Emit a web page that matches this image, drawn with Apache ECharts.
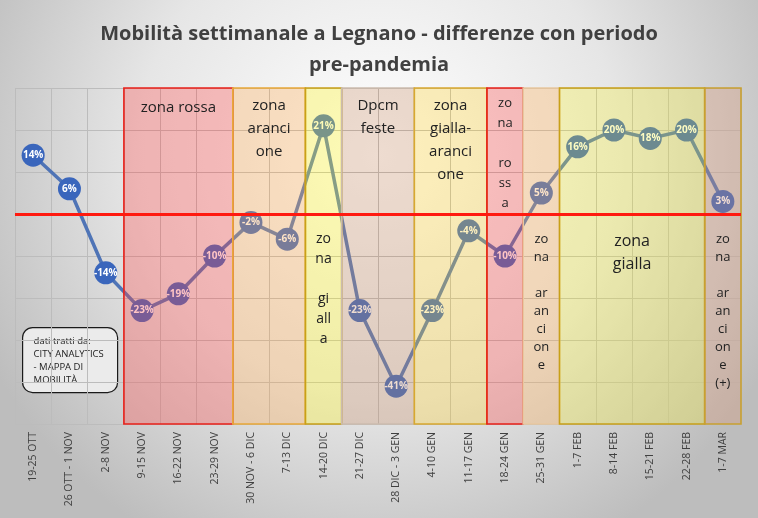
<!DOCTYPE html>
<html><head><meta charset="utf-8">
<script src="https://cdn.jsdelivr.net/npm/echarts@6/dist/echarts.min.js"></script>
<style>html,body{margin:0;padding:0;}#c{width:758px;height:518px;}</style>
</head><body><div id="c"></div>
<script>
const categories = ['19-25 OTT','26 OTT - 1 NOV','2-8 NOV','9-15 NOV','16-22 NOV','23-29 NOV','30 NOV - 6 DIC','7-13 DIC','14-20 DIC','21-27 DIC','28 DIC - 3 GEN','4-10 GEN','11-17 GEN','18-24 GEN','25-31 GEN','1-7 FEB','8-14 FEB','15-21 FEB','22-28 FEB','1-7 MAR'];
const values = [14, 6, -14, -23, -19, -10, -2, -6, 21, -23, -41, -23, -4, -10, 5, 16, 20, 18, 20, 3];

// zones: first and last category index covered, label, kind
const zoneFirst = [3, 6, 8, 9, 11, 13, 14, 15, 19];
const zoneLast  = [5, 7, 8, 10, 12, 13, 14, 18, 19];
const zoneText = [
  'zona rossa',
  'zona\naranci\none',
  'zo\nna\n\ngi\nall\na',
  'Dpcm\nfeste',
  'zona\ngialla-\naranci\none',
  'zo\nna\n\nro\nss\na',
  'zo\nna\n\nar\nan\nci\non\ne',
  'zona\ngialla',
  'zo\nna\n\nar\nan\nci\non\ne\n(+)'
];
const zoneKind = ['rossa','arancione','gialla','feste','giallaArancione','rossa','arancione2','giallaV','arancioneP'];

const sourceText = 'dati tratti da:\nCITY ANALYTICS\n- MAPPA DI\nMOBILITÀ';
const titleLine1 = 'Mobilità settimanale a Legnano - differenze con periodo';
const titleLine2 = 'pre-pandemia';

// styles (not data)
const kindStyle = {
  rossa:           {color:'rgba(255,70,70,0.32)',  border:'#e8201a'},
  arancione:       {color:'rgba(255,170,80,0.32)', border:'#e8a838'},
  gialla:          {color:'rgba(255,245,30,0.32)', border:'#c8a018'},
  feste:           {color:'rgba(200,140,100,0.30)',border:'#cbbcae'},
  giallaArancione: {color:'rgba(255,210,40,0.30)', border:'#d8a830'},
  arancione2:      {color:'rgba(255,175,85,0.32)', border:'#e8c8a0'},
  giallaV:         {color:'rgba(250,245,20,0.26)', border:'#c8a018'},
  arancioneP:      {color:'rgba(220,145,110,0.30)',border:'#c8a030'}
};
const labelLayout = [
  {d:9,  fs:15, lh:23},
  {d:7,  fs:15, lh:23},
  {d:142,fs:14, lh:20},
  {d:7,  fs:15, lh:23},
  {d:7,  fs:15, lh:23},
  {d:6,  fs:13, lh:20},
  {d:143,fs:13, lh:18},
  {d:143,fs:16, lh:23},
  {d:143,fs:13, lh:18}
];
const FONT = 'Open Sans';

const areaData = zoneFirst.map((f, i) => {
  const st = kindStyle[zoneKind[i]];
  const L = labelLayout[i];
  return [{
    name: zoneText[i],
    xAxis: f,
    itemStyle: {color: st.color, borderColor: st.border, borderWidth: 1.6},
    label: {show: true, position: 'insideTop', distance: L.d, color: '#222', fontSize: L.fs,
            lineHeight: L.lh, fontFamily: FONT, align: 'center'}
  }, {xAxis: zoneLast[i] + 1}];
});

const chart = echarts.init(document.getElementById('c'));
chart.setOption({
  animation: false,
  backgroundColor: {type:'radial', x:0.5, y:0.3, r:0.85,
    colorStops:[{offset:0,color:'#ffffff'},{offset:0.55,color:'#e6e6e6'},{offset:1,color:'#bdbdbd'}]},
  title: [{text: titleLine1, left: 'center', top: 14,
    textStyle: {fontSize: 20, fontWeight: 'bold', color: '#404040', lineHeight: 30, fontFamily: FONT}},
    {text: titleLine2, left: 'center', top: 45,
    textStyle: {fontSize: 20, fontWeight: 'bold', color: '#404040', lineHeight: 30, fontFamily: FONT}}],
  grid: {left: 15, right: 17, top: 88, bottom: 94},
  xAxis: [{
    type: 'category', data: categories, boundaryGap: true,
    axisLine: {show: true, lineStyle: {color: '#bcbcbc'}},
    axisTick: {show: false},
    axisLabel: {rotate: 90, interval: 0, fontSize: 10.5, color: '#404040', margin: 8, fontFamily: FONT},
    splitLine: {show: true, interval: 0, lineStyle: {color: '#bcbcbc', width: 1}}
  }, {
    type: 'value', min: 0, max: 20, show: false
  }],
  yAxis: {
    type: 'value', min: -50, max: 30, interval: 10,
    axisLabel: {show: false}, axisLine: {show: false}, axisTick: {show: false},
    splitLine: {lineStyle: {color: '#bcbcbc', width: 1}}
  },
  series: [{
    type: 'line', data: values, z: 2,
    lineStyle: {color: '#4f74b6', width: 3.5},
    symbol: 'circle', symbolSize: 23,
    itemStyle: {color: '#3a66bc'},
    label: {show: true, position: 'inside', formatter: '{c}%', color: '#fff',
            fontWeight: 'bold', fontSize: 10, fontFamily: FONT}
  }, {
    type: 'line', xAxisIndex: 1, data: [], z: 10, silent: true,
    markArea: {silent: true, z: 10, data: areaData}
  }, {
    type: 'line', xAxisIndex: 1, data: [], z: 20, silent: true,
    markLine: {silent: true, z: 20, symbol: 'none', label: {show: false},
      lineStyle: {color: '#ff1a10', width: 3, type: 'solid'},
      data: [{yAxis: 0}]}
  }],
  graphic: [{
    type: 'group', left: 22, top: 327,
    children: [{
      type: 'rect', shape: {x: 0, y: 0, width: 95, height: 65, r: 10},
      style: {fill: '#ebebeb', stroke: '#1a1a1a', lineWidth: 1.2}
    }, {
      type: 'text', x: 11, y: 7,
      style: {text: sourceText, fontSize: 9.5, lineHeight: 13, fill: '#222', fontFamily: FONT}
    }]
  }]
});
</script></body></html>
